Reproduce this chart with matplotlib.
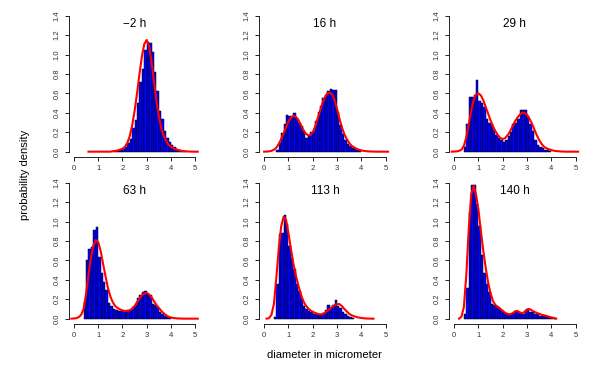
import numpy as np
import matplotlib
matplotlib.use("Agg")
import matplotlib.pyplot as plt

plt.rcParams['font.family'] = ['Liberation Sans', 'DejaVu Sans']

# Datos (histogramas con ancho de clase 0.1)
titles = ["\u22122 h", "16 h", "29 h", "63 h", "113 h", "140 h"]
bin_w = 0.1

h1_start = 1.6
h1 = [0.01, 0.01, 0.02, 0.02, 0.03, 0.05, 0.09, 0.13, 0.24, 0.33, 0.50, 0.72, 0.85, 1.05,
      1.13, 1.12, 1.03, 0.82, 0.62, 0.42, 0.34, 0.21, 0.14, 0.10, 0.07, 0.05, 0.03, 0.02,
      0.01, 0.01]
h2_start = 0.5
h2 = [0.02, 0.09, 0.19, 0.29, 0.38, 0.37, 0.36, 0.40, 0.35, 0.30, 0.26, 0.20, 0.14, 0.16,
      0.20, 0.21, 0.32, 0.41, 0.47, 0.55, 0.58, 0.62, 0.65, 0.64, 0.64, 0.41, 0.27, 0.18,
      0.12, 0.08, 0.06, 0.04, 0.03, 0.02, 0.01]
h3_start = 0.4
h3 = [0.05, 0.28, 0.56, 0.56, 0.58, 0.74, 0.52, 0.50, 0.46, 0.34, 0.30, 0.29, 0.22, 0.17,
      0.14, 0.12, 0.10, 0.12, 0.16, 0.20, 0.29, 0.30, 0.34, 0.43, 0.43, 0.43, 0.37, 0.29,
      0.21, 0.12, 0.07, 0.05, 0.04, 0.02, 0.02, 0.01]
h4_start = 0.4
h4 = [0.17, 0.60, 0.72, 0.74, 0.91, 0.94, 0.64, 0.47, 0.38, 0.30, 0.16, 0.13, 0.10, 0.09,
      0.08, 0.08, 0.08, 0.08, 0.09, 0.10, 0.12, 0.14, 0.21, 0.24, 0.27, 0.29, 0.25, 0.24,
      0.15, 0.14, 0.12, 0.07, 0.05, 0.03, 0.02, 0.01]
h5_start = 0.4
h5 = [0.02, 0.36, 0.87, 0.88, 1.07, 0.97, 0.75, 0.62, 0.51, 0.36, 0.28, 0.20, 0.13, 0.10,
      0.08, 0.07, 0.05, 0.05, 0.04, 0.04, 0.06, 0.09, 0.14, 0.11, 0.14, 0.19, 0.13, 0.11,
      0.07, 0.05, 0.03, 0.02, 0.01]
h6_start = 0.4
h6 = [0.05, 0.32, 1.10, 1.38, 1.38, 1.18, 0.95, 0.66, 0.47, 0.36, 0.27, 0.15, 0.14, 0.13,
      0.12, 0.09, 0.07, 0.05, 0.045, 0.05, 0.055, 0.08, 0.07, 0.06, 0.05, 0.09, 0.10, 0.07,
      0.07, 0.05, 0.05, 0.03, 0.03, 0.03, 0.02, 0.02, 0.01, 0.01]

# Curvas de densidad (rojo), puntos cada 0.1
c1_start = 0.6
c1 = [0, 0, 0, 0, 0, 0, 0, 0, 0, 0, 0.005, 0.008, 0.012, 0.02, 0.03, 0.05, 0.09, 0.16,
      0.27, 0.42, 0.60, 0.80, 0.98, 1.11, 1.15, 1.08, 0.92, 0.72, 0.52, 0.36, 0.24, 0.16,
      0.11, 0.07, 0.05, 0.035, 0.025, 0.015, 0.01, 0.006, 0.004, 0.002, 0.001, 0, 0, 0]
c2_start = 0.0
c2 = [0, 0.001, 0.003, 0.008, 0.02, 0.04, 0.08, 0.13, 0.19, 0.25, 0.31, 0.35, 0.37, 0.36,
      0.33, 0.28, 0.23, 0.19, 0.17, 0.17, 0.20, 0.26, 0.34, 0.42, 0.50, 0.56, 0.60, 0.61,
      0.59, 0.53, 0.44, 0.34, 0.25, 0.18, 0.13, 0.09, 0.06, 0.045, 0.03, 0.02, 0.013,
      0.008, 0.005, 0.003, 0.002, 0.001, 0, 0, 0, 0, 0, 0]
c3_start = -0.1
c3 = [0, 0.001, 0.003, 0.008, 0.02, 0.06, 0.15, 0.28, 0.42, 0.53, 0.59, 0.60, 0.58, 0.53,
      0.46, 0.39, 0.32, 0.26, 0.21, 0.17, 0.14, 0.13, 0.14, 0.17, 0.21, 0.26, 0.31, 0.35,
      0.38, 0.40, 0.40, 0.38, 0.34, 0.29, 0.23, 0.17, 0.12, 0.08, 0.05, 0.035, 0.025,
      0.017, 0.01, 0.006, 0.004, 0.002, 0.001, 0, 0, 0, 0, 0, 0]
c4_start = -0.1
c4 = [0, 0.002, 0.005, 0.015, 0.04, 0.10, 0.25, 0.45, 0.62, 0.75, 0.81, 0.79, 0.70, 0.57,
      0.44, 0.32, 0.23, 0.17, 0.13, 0.11, 0.095, 0.085, 0.08, 0.08, 0.085, 0.10, 0.13,
      0.17, 0.21, 0.24, 0.26, 0.265, 0.25, 0.22, 0.18, 0.14, 0.11, 0.08, 0.055, 0.035,
      0.02, 0.012, 0.007, 0.004, 0.002, 0.001, 0, 0, 0, 0, 0, 0, 0]
c5_start = 0.1
c5 = [0, 0.005, 0.04, 0.15, 0.42, 0.72, 0.95, 1.05, 1.02, 0.88, 0.72, 0.57, 0.45, 0.35,
      0.26, 0.19, 0.14, 0.11, 0.085, 0.07, 0.06, 0.05, 0.045, 0.045, 0.06, 0.08, 0.10,
      0.12, 0.14, 0.15, 0.15, 0.13, 0.10, 0.075, 0.05, 0.035, 0.025, 0.017, 0.011, 0.007,
      0.004, 0.002, 0.001, 0, 0]
c6_start = 0.2
c6 = [0, 0.02, 0.12, 0.45, 0.92, 1.28, 1.37, 1.28, 1.12, 0.90, 0.70, 0.52, 0.37, 0.26,
      0.18, 0.14, 0.12, 0.10, 0.08, 0.06, 0.05, 0.045, 0.055, 0.075, 0.08, 0.065, 0.055,
      0.07, 0.095, 0.10, 0.085, 0.07, 0.06, 0.05, 0.04, 0.035, 0.028, 0.02, 0.013, 0.007, 0]

hists = [(h1_start, h1), (h2_start, h2), (h3_start, h3),
         (h4_start, h4), (h5_start, h5), (h6_start, h6)]
curves = [(c1_start, c1), (c2_start, c2), (c3_start, c3),
          (c4_start, c4), (c5_start, c5), (c6_start, c6)]

W, H = 600, 375
fig = plt.figure(figsize=(6, 3.75), dpi=100)

lefts = [69, 259.3, 449.3]
bottoms = [157.1, 324.1]
aw, ah = 131.2, 146.8
gris = "#222222"

for i in range(6):
    fila, col = divmod(i, 3)
    ax = fig.add_axes([lefts[col]/W, 1 - bottoms[fila]/H, aw/W, ah/H])
    hs, hv = hists[i]
    edges = hs + bin_w*np.arange(len(hv))
    ax.bar(edges, hv, width=bin_w, align="edge", color="blue",
           edgecolor="black", linewidth=0.35)
    cs, cv = curves[i]
    xc = cs + 0.1*np.arange(len(cv))
    ax.plot(xc, cv, "-", color="red", linewidth=1.5)

    ax.set_xlim(-0.2, 5.2)
    ax.set_ylim(-0.056, 1.456)
    ax.set_xticks(np.arange(0, 6, 1))
    ax.set_yticks(np.arange(0, 1.5, 0.2))
    ax.set_yticklabels(["%.1f" % v for v in np.arange(0, 1.5, 0.2)])
    for s in ["top", "right"]:
        ax.spines[s].set_visible(False)
    ax.spines["left"].set_bounds(0, 1.4)
    ax.spines["bottom"].set_bounds(0, 5)
    for s in ["left", "bottom"]:
        ax.spines[s].set_linewidth(0.7)
        ax.spines[s].set_color(gris)
    ax.tick_params(axis="both", length=3, width=0.7, color=gris,
                   labelsize=5.5, labelcolor="#333333")
    ax.tick_params(axis="y", labelrotation=90, pad=3.2)
    ax.tick_params(axis="x", pad=2.5)
    for lab in ax.get_yticklabels():
        lab.set_va("center")
    ax.text(0.5, 0.907, titles[i], transform=ax.transAxes, ha="center",
            va="center", fontsize=8.5)

fig.text(25/W, 1 - 175/H, "probability density", rotation=90,
         ha="center", va="center", fontsize=8.1)
fig.text(324.5/W, 1 - 355/H, "diameter in micrometer",
         ha="center", va="center", fontsize=8.1)

fig.savefig("out.png", dpi=100)
